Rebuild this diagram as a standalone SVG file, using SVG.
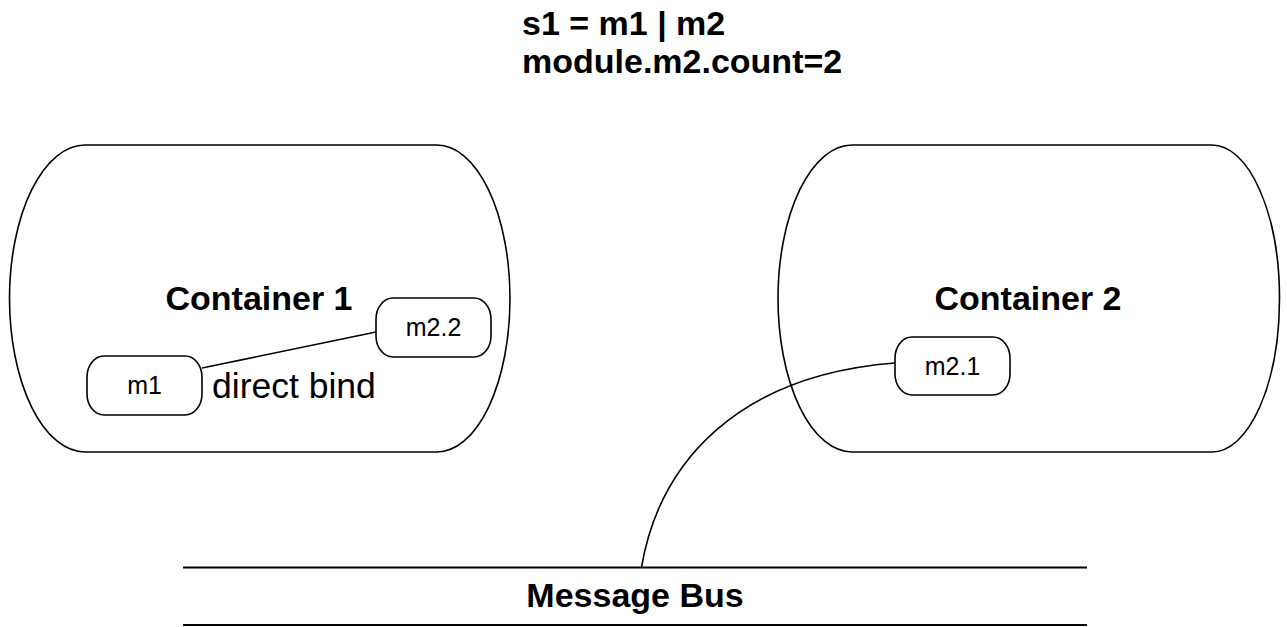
<svg xmlns="http://www.w3.org/2000/svg" width="1287" height="627" viewBox="0 0 1287 627">
  <style>
    .shape { fill: #ffffff; stroke: #000000; stroke-width: 1.6; }
    .edge { fill: none; stroke: #000000; stroke-width: 1.6; }
    .bus { fill: none; stroke: #000000; stroke-width: 2.2; }
    .big { font-family: "Liberation Sans", Arial, sans-serif; font-size: 34px; font-weight: bold; fill: #000000; }
    .small { font-family: "Liberation Sans", Arial, sans-serif; font-size: 25px; fill: #000000; text-anchor: middle; }
    .lbl { font-family: "Liberation Sans", Arial, sans-serif; font-size: 35.5px; fill: #000000; }
  </style>
  <rect x="0" y="0" width="1287" height="627" fill="#ffffff"/>

  <g id="title">
    <text class="big" x="522" y="35">s1 = m1 | m2</text>
    <text class="big" x="522" y="73">module.m2.count=2</text>
  </g>

  <g id="container1">
    <path class="shape" d="M85,145 L437,145 A73,153.5 0 0 1 437,452 L85,452 A75.5,153.5 0 0 1 85,145 Z"/>
    <text class="big" x="259" y="310" text-anchor="middle" font-size="33">Container 1</text>
  </g>

  <g id="container2">
    <path class="shape" d="M852,145 L1212,145 A67.5,153.5 0 0 1 1212,452 L852,452 A74,153.5 0 0 1 852,145 Z"/>
    <text class="big" x="1028" y="310" text-anchor="middle" font-size="33">Container 2</text>
  </g>

  <g id="bus">
    <line class="bus" x1="183" y1="567.5" x2="1087" y2="567.5"/>
    <line class="bus" x1="183" y1="625" x2="1087" y2="625"/>
    <text class="big" x="635" y="607" text-anchor="middle">Message Bus</text>
  </g>

  <g id="connectors">
    <path class="edge" d="M202,368 L376,332"/>
    <path class="edge" d="M895,363 C740,375 660,460 641.5,567"/>
  </g>

  <g id="m1">
    <rect class="shape" x="87" y="356" width="115" height="59" rx="17" ry="21"/>
    <text class="small" x="144.5" y="393.5">m1</text>
  </g>

  <g id="m2_2">
    <rect class="shape" x="376" y="298" width="115" height="59" rx="17" ry="21"/>
    <text class="small" x="433.5" y="336">m2.2</text>
  </g>

  <g id="m2_1">
    <rect class="shape" x="895" y="337" width="115" height="58" rx="17" ry="21"/>
    <text class="small" x="952.5" y="374.5">m2.1</text>
  </g>

  <g id="edge-label">
    <text class="lbl" x="212" y="398">direct bind</text>
  </g>
</svg>
